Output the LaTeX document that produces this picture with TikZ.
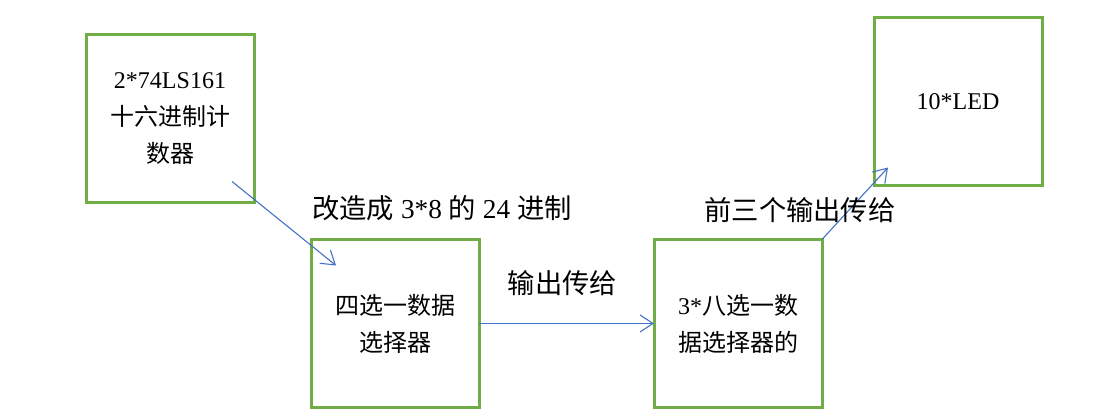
\documentclass[tikz,border=0pt]{standalone}
\usepackage{fontspec}
\setmainfont{Liberation Serif}
\newfontfamily\cjk{Noto Sans CJK SC}
\usetikzlibrary{positioning,calc,arrows.meta}
\definecolor{boxgreen}{HTML}{70AD47}
\definecolor{arrowblue}{HTML}{4472C4}
\tikzset{
	my node/.style = {rectangle, draw=boxgreen, line width=3pt, outer sep=0pt, inner sep=0pt, minimum width=168pt, minimum height=168pt, align=center, font=\fontsize{24}{37}\selectfont}, % the green boxes
	my edge/.style = {draw=arrowblue, line width=1.1pt, -{Straight Barb[length=13pt,width=17pt]}},
	my label/.style = {inner sep=0pt, font=\fontsize{27.3}{30}\selectfont}
}

\begin{document}
\begin{tikzpicture}
            \useasboundingbox (0,0) rectangle (1103pt,-415pt);
            \node[my node] (1) at (170pt,-118.5pt) {2*74LS161\\{\cjk 十六进制计}\\{\cjk 数器}};
            \node[my node] (2) [below right=37pt and 57pt of 1] {{\cjk 四选一数据}\\{\cjk 选择器}};
            \node[my node] (3) [right=175pt of 2] {3*{\cjk 八选一数}\\{\cjk 据选择器的}};
            \node[my node] (4) [above right=54pt and 52pt of 3] {10*LED};
            % free ends of the slanted arrows
            \coordinate (a) at ($(1.south east)+(-22pt,21pt)$);
            \coordinate (b) at ($(2.north west)+(25pt,-26pt)$);
            \coordinate (c) at ($(4.south west)+(14pt,18pt)$);
            \draw[my edge] (a) -- (b);
            \draw[my edge] (2.east) -- (3.west);
            \draw[my edge] (3.north east) -- (c);
            \node[my label] (l1) at ($(2.north)+(47pt,31pt)$) {{\cjk 改造成} 3*8 {\cjk 的} 24 {\cjk 进制}};
            \node[my label] (l2) at ($(2.east)!0.5!(3.west)+(-4pt,40pt)$) {\cjk 输出传给};
            \node[my label] (l3) at ($(3.north)+(62pt,29pt)$) {\cjk 前三个输出传给};
        \end{tikzpicture}
\end{document}
